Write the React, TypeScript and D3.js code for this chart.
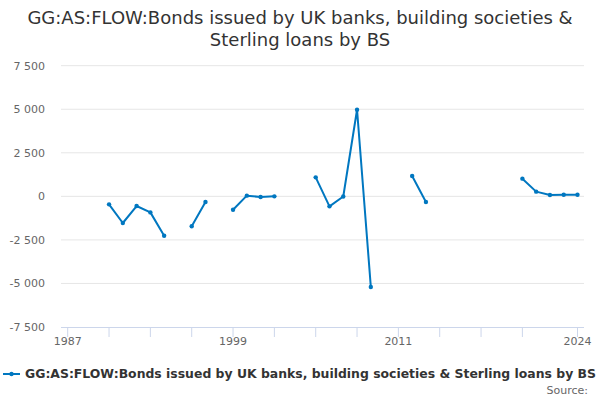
import React from "react";
import * as d3 from "d3";

const years = [
  1990, 1991, 1992, 1993, 1994, 1995, 1996, 1997, 1998, 1999, 2000, 2001, 2002,
  2003, 2004, 2005, 2006, 2007, 2008, 2009, 2010, 2011, 2012, 2013, 2014, 2015,
  2016, 2017, 2018, 2019, 2020, 2021, 2022, 2023, 2024,
];
const values: (number | null)[] = [
  -460, -1530, -555, -920, -2260, null, -1720, -325, null, -765, 40, -40, 0,
  null, null, 1090, -575, -10, 4970, -5200, null, null, 1165, -325, null, null,
  null, null, null, null, 1015, 270, 75, 95, 95,
];
const yTicks = [-7500, -5000, -2500, 0, 2500, 5000, 7500];
const xTicks = [1987, 1990, 1993, 1996, 1999, 2002, 2005, 2008, 2011, 2014, 2017, 2020, 2024];
const xLabels = [1987, 1999, 2011, 2024];
const seriesName = "GG:AS:FLOW:Bonds issued by UK banks, building societies & Sterling loans by BS";

const fmt = (v: number) => d3.format(",")(v).replace(/,/g, " ").replace("−", "-");

const App = () => {
  const x = d3.scaleLinear().domain([1987, 2024]).range([67.7, 577.5]);
  const y = d3.scaleLinear().domain([-7500, 7500]).range([327, 65.7]);
  const pts = years.map((yr, i) => ({ yr, v: values[i] }));
  const line = d3
    .line<{ yr: number; v: number | null }>()
    .defined((d) => d.v !== null)
    .x((d) => x(d.yr))
    .y((d) => y(d.v as number));
  const font = "'DejaVu Sans', sans-serif";
  const color = "#0077c0";

  return (
    <svg width={600} height={400} style={{ position: "absolute", left: 0, top: 0, fontFamily: font }}>
      <rect width={600} height={400} fill="#fff" />
      <text x={300} y={24} textAnchor="middle" fontSize={18} fill="#333">
        GG:AS:FLOW:Bonds issued by UK banks, building societies &amp;
      </text>
      <text x={300} y={46} textAnchor="middle" fontSize={18} fill="#333">
        Sterling loans by BS
      </text>
      {yTicks.map((t) => (
        <g key={t}>
          {t !== -7500 && <line x1={61} x2={584} y1={y(t)} y2={y(t)} stroke="#e6e6e6" strokeWidth={1} />}
          <text x={45} y={y(t) + 4} textAnchor="end" fontSize={11} fill="#666">
            {fmt(t)}
          </text>
        </g>
      ))}
      <line x1={61} x2={584} y1={327.5} y2={327.5} stroke="#ccd6eb" strokeWidth={1} />
      {xTicks.map((t) => (
        <line key={t} x1={x(t)} x2={x(t)} y1={327.5} y2={337} stroke="#ccd6eb" strokeWidth={1} />
      ))}
      {xLabels.map((t) => (
        <text key={t} x={x(t)} y={345} textAnchor="middle" fontSize={11} fill="#666">
          {t}
        </text>
      ))}
      <path d={line(pts) || ""} fill="none" stroke={color} strokeWidth={2} strokeLinejoin="round" />
      {pts
        .filter((d) => d.v !== null)
        .map((d) => (
          <circle key={d.yr} cx={x(d.yr)} cy={y(d.v as number)} r={2.2} fill={color} />
        ))}
      <line x1={3} x2={20} y1={374} y2={374} stroke={color} strokeWidth={2} />
      <circle cx={11.5} cy={374} r={2.2} fill={color} />
      <text x={25} y={378} fontSize={12.2} fontWeight="bold" fill="#333" textLength={571} lengthAdjust="spacingAndGlyphs">
        {seriesName}
      </text>
      <text x={588} y={394} textAnchor="end" fontSize={11} fill="#666">
        Source:
      </text>
    </svg>
  );
};

export default App;
